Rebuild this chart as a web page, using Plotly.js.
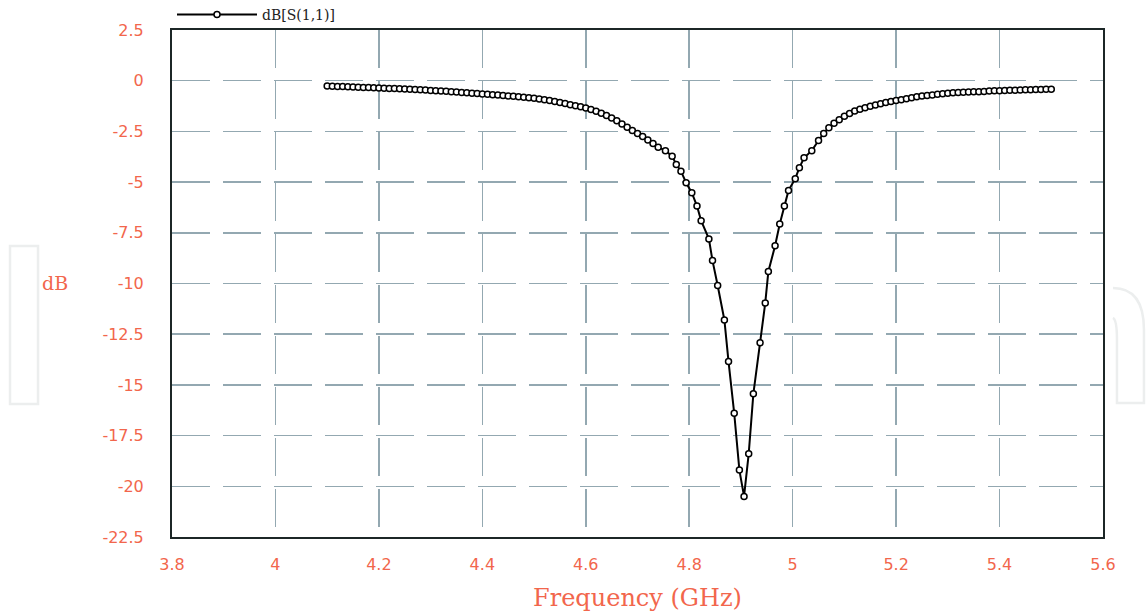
<!DOCTYPE html>
<html>
<head>
<meta charset="utf-8">
<script src="https://cdn.plot.ly/plotly-3.0.1.min.js"></script>
<style>html,body{margin:0;padding:0;background:#fff;}#chart{width:1146px;height:616px;}</style>
</head>
<body>
<div id="chart"></div>
<script>
// Frequency (GHz) and return loss dB[S(1,1)]
const freqLeft = [4.10,4.11,4.12,4.13,4.14,4.15,4.16,4.17,4.18,4.19,4.20,4.21,4.22,4.23,4.24,4.25,4.26,4.27,4.28,4.29,4.30,4.31,4.32,4.33,4.34,4.35,4.36,4.37,4.38,4.39,4.40,4.41,4.42,4.43,4.44,4.45,4.46,4.47,4.48,4.49,4.50,4.51,4.52,4.53,4.54,4.55,4.56,4.57,4.58,4.59,4.60,4.61,4.62,4.63,4.64,4.65,4.66,4.67,4.68,4.69,4.70,4.71,4.72,4.73,4.74];
const dbLeft = [-0.26,-0.27,-0.28,-0.29,-0.30,-0.31,-0.32,-0.33,-0.34,-0.35,-0.36,-0.37,-0.38,-0.39,-0.40,-0.41,-0.42,-0.43,-0.45,-0.46,-0.48,-0.49,-0.51,-0.52,-0.54,-0.56,-0.58,-0.60,-0.62,-0.63,-0.65,-0.67,-0.69,-0.71,-0.73,-0.75,-0.77,-0.79,-0.81,-0.84,-0.86,-0.90,-0.94,-0.98,-1.03,-1.08,-1.13,-1.18,-1.23,-1.28,-1.34,-1.42,-1.51,-1.61,-1.72,-1.84,-1.98,-2.13,-2.30,-2.46,-2.60,-2.75,-2.92,-3.10,-3.28];
const freqDip = [4.754,4.767,4.775,4.784,4.794,4.805,4.815,4.823,4.838,4.845,4.855,4.868,4.876,4.887,4.897,4.906,4.915,4.924,4.937,4.947,4.953,4.966,4.975,4.984,4.992,5.005,5.013,5.022,5.037];
const dbDip = [-3.45,-3.72,-4.13,-4.46,-5.03,-5.52,-6.18,-6.90,-7.80,-8.87,-10.10,-11.80,-13.85,-16.40,-19.20,-20.50,-18.40,-15.44,-12.92,-10.96,-9.41,-8.14,-7.07,-6.18,-5.41,-4.83,-4.29,-3.80,-3.45];
const freqRight = [5.05,5.06,5.07,5.08,5.09,5.10,5.11,5.12,5.13,5.14,5.15,5.16,5.17,5.18,5.19,5.20,5.21,5.22,5.23,5.24,5.25,5.26,5.27,5.28,5.29,5.30,5.31,5.32,5.33,5.34,5.35,5.36,5.37,5.38,5.39,5.40,5.41,5.42,5.43,5.44,5.45,5.46,5.47,5.48,5.49,5.50];
const dbRight = [-2.95,-2.60,-2.32,-2.10,-1.92,-1.75,-1.62,-1.50,-1.41,-1.33,-1.26,-1.20,-1.14,-1.08,-1.03,-0.98,-0.94,-0.89,-0.84,-0.79,-0.76,-0.73,-0.70,-0.67,-0.64,-0.62,-0.60,-0.58,-0.57,-0.56,-0.55,-0.54,-0.53,-0.51,-0.50,-0.49,-0.48,-0.47,-0.47,-0.46,-0.45,-0.45,-0.44,-0.43,-0.42,-0.42];
const xTicks = [3.8,4,4.2,4.4,4.6,4.8,5,5.2,5.4,5.6];
const yTicks = [2.5,0,-2.5,-5,-7.5,-10,-12.5,-15,-17.5,-20,-22.5];
const seriesName = 'dB[S(1,1)]';

const freq = freqLeft.concat(freqDip, freqRight);
const db = dbLeft.concat(dbDip, dbRight);

const red = '#f2664c';
const gridColor = '#93a8b1';
const tickFont = {family: 'DejaVu Sans, Verdana, sans-serif', size: 16, color: red};

const trace = {
  x: freq, y: db, type: 'scatter', mode: 'lines+markers', name: seriesName,
  line: {color: '#000000', width: 2},
  marker: {symbol: 'circle', size: 6, color: '#ffffff', line: {color: '#000000', width: 1.5}}
};

const layout = {
  width: 1146, height: 616,
  margin: {l: 172, r: 43, t: 30, b: 79, pad: 0, autoexpand: false},
  paper_bgcolor: '#ffffff', plot_bgcolor: '#ffffff',
  showlegend: true,
  legend: {x: 0, xanchor: 'left', y: 1.03, yanchor: 'middle', orientation: 'h',
    itemwidth: 80, bgcolor: 'rgba(0,0,0,0)',
    font: {family: 'DejaVu Serif, serif', size: 14, color: '#222222'}},
  xaxis: {
    range: [3.8, 5.6], tickvals: xTicks, ticktext: xTicks.map(String),
    showgrid: true, gridcolor: gridColor, gridwidth: 1.5, griddash: '38px,13px',
    zeroline: false, showline: true, mirror: true, linecolor: '#1c2626', linewidth: 2,
    ticks: 'outside', ticklen: 12, tickcolor: 'rgba(0,0,0,0)',
    tickfont: tickFont,
    title: {text: 'Frequency (GHz)', standoff: 16,
      font: {family: 'DejaVu Serif, serif', size: 24, color: red}}
  },
  yaxis: {
    range: [-22.5, 2.5], tickvals: yTicks, ticktext: yTicks.map(String),
    showgrid: true, gridcolor: gridColor, gridwidth: 1.5, griddash: '38px,13px',
    zeroline: false, showline: true, mirror: true, linecolor: '#1c2626', linewidth: 2,
    ticks: 'outside', ticklen: 23, tickcolor: 'rgba(0,0,0,0)',
    tickfont: tickFont
  },
  annotations: [{
    text: 'dB', xref: 'paper', yref: 'paper', x: -0.1257, y: 0.501, xanchor: 'center', yanchor: 'middle',
    showarrow: false, font: {family: 'DejaVu Serif, serif', size: 19, color: red}
  }],
  shapes: [
    {type: 'rect', xref: 'paper', yref: 'paper', layer: 'below',
     x0: -0.174, x1: -0.1439, y0: 0.2623, y1: 0.574,
     fillcolor: '#ffffff', line: {color: '#eceeee', width: 2.5}},
    {type: 'path', xref: 'paper', yref: 'paper', layer: 'below',
     path: 'M 1.0107,0.4911 Q 1.044,0.4911 1.044,0.4083 L 1.044,0.2643 L 1.015,0.2643 L 1.015,0.3886 Q 1.015,0.428 1.0107,0.432',
     fillcolor: 'rgba(0,0,0,0)', line: {color: '#eceeee', width: 2.5}}
  ]
};

Plotly.newPlot('chart', [trace], layout, {displayModeBar: false, staticPlot: true});
</script>
</body>
</html>
